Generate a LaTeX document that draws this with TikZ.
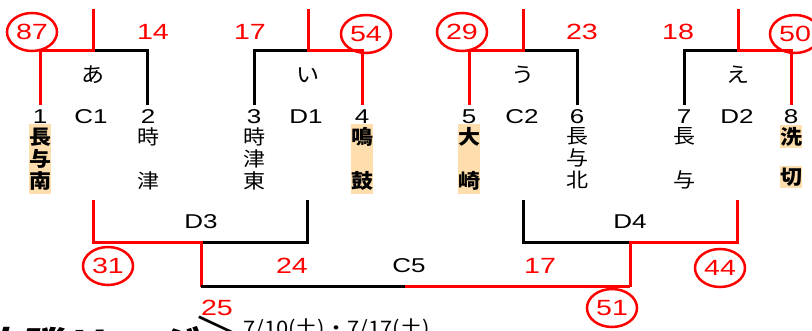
\documentclass[tikz,border=0pt]{standalone}
\usepackage{fontspec}
\setmainfont{Noto Sans CJK JP}[FakeStretch=1.1]
\newfontfamily\latinfont{Liberation Sans}[FakeStretch=1.3]
\usetikzlibrary{shapes,positioning}
\definecolor{peach}{RGB}{255,222,173}

\begin{document}
\begin{tikzpicture}[x=1pt, y=-1pt,
  win/.style={draw=red, line width=3pt},
  lose/.style={draw=black, line width=3pt},
  score/.style={text=red, font=\latinfont\fontsize{22}{22}\selectfont, inner sep=0pt},
  winner/.style={score, ellipse, draw=red, line width=2.5pt, minimum width=50pt, minimum height=38pt},
  label/.style={font=\latinfont\fontsize{20}{20}\selectfont, inner sep=0pt},
  kana/.style={font=\fontsize{21}{21}\selectfont, inner sep=0pt},
  team/.style={font=\fontsize{20}{22}\selectfont, align=center, inner xsep=0pt, inner ysep=3.5pt},
  seed/.style={team, fill=peach, font=\fontsize{20}{22}\selectfont\bfseries}]

\useasboundingbox (0,0) rectangle (812,331);

% FIRST ROUND

\coordinate (a-top) at (93,9);   \coordinate (a-mid) at (93,51);
\coordinate (a-l) at (40,51);    \coordinate (a-lb) at (40,105);
\coordinate (a-r) at (147,51);   \coordinate (a-rb) at (147,105);
\draw [lose] (a-mid) -- (a-r) -- (a-rb);
\draw [win] (a-top) -- (a-mid) -- (a-l) -- (a-lb);

\coordinate (i-top) at (308,9);  \coordinate (i-mid) at (308,51);
\coordinate (i-l) at (254,51);   \coordinate (i-lb) at (254,105);
\coordinate (i-r) at (362,51);   \coordinate (i-rb) at (362,105);
\draw [lose] (i-mid) -- (i-l) -- (i-lb);
\draw [win] (i-top) -- (i-mid) -- (i-r) -- (i-rb);

\coordinate (u-top) at (523,9);  \coordinate (u-mid) at (523,51);
\coordinate (u-l) at (469,51);   \coordinate (u-lb) at (469,105);
\coordinate (u-r) at (577,51);   \coordinate (u-rb) at (577,105);
\draw [lose] (u-mid) -- (u-r) -- (u-rb);
\draw [win] (u-top) -- (u-mid) -- (u-l) -- (u-lb);

\coordinate (e-top) at (738,9);  \coordinate (e-mid) at (738,51);
\coordinate (e-l) at (684,51);   \coordinate (e-lb) at (684,105);
\coordinate (e-r) at (791,51);   \coordinate (e-rb) at (791,105);
\draw [lose] (e-mid) -- (e-l) -- (e-lb);
\draw [win] (e-top) -- (e-mid) -- (e-r) -- (e-rb);

\node [kana] (kana-a) at (93,75) {あ};
\node [kana] (kana-i) at (308,75) {い};
\node [kana] (kana-u) at (523,75) {う};
\node [kana] (kana-e) at (738,75) {え};

\node [winner] (score-1) at (32,32) {87};
\node [score] (score-2) at (153,32) {14};
\node [score] (score-3) at (250,32) {17};
\node [winner] (score-4) at (366,34) {54};
\node [winner] (score-5) at (462,32) {29};
\node [score] (score-6) at (582,32) {23};
\node [score] (score-7) at (678,32) {18};
\node [winner] (score-8) at (795,34) {50};

% TEAMS

\node [label] (num1) at (40,117) {1};
\node [label] (court-c1) at (91,117) {C1};
\node [label] (num2) at (148,117) {2};
\node [label] (num3) at (254,117) {3};
\node [label] (court-d1) at (306,117) {D1};
\node [label] (num4) at (362,117) {4};
\node [label] (num5) at (469,117) {5};
\node [label] (court-c2) at (522,117) {C2};
\node [label] (num6) at (577,117) {6};
\node [label] (num7) at (684,117) {7};
\node [label] (court-d2) at (737,117) {D2};
\node [label] (num8) at (791,117) {8};

\node [seed, below=0pt of num1] (team1) {長\\与\\南};
\node [team, below=0pt of num2] (team2) {時\\[22pt]津};
\node [team, below=0pt of num3] (team3) {時\\津\\東};
\node [seed, below=0pt of num4] (team4) {鳴\\[22pt]鼓};
\node [seed, below=0pt of num5] (team5) {大\\[22pt]崎};
\node [team, below=0pt of num6] (team6) {長\\与\\北};
\node [team, below=0pt of num7] (team7) {長\\[22pt]与};
\node [seed, below=1pt of num8, inner ysep=2pt] (team8a) {洗};
\node [seed, below=17pt of team8a, inner ysep=2pt] (team8b) {切};

% SECOND ROUND

\coordinate (d3-lt) at (93,200);  \coordinate (d3-l) at (93,243);
\coordinate (d3-mid) at (201,243); \coordinate (d3-out) at (201,287);
\coordinate (d3-r) at (307,243);  \coordinate (d3-rt) at (307,200);
\draw [lose] (d3-mid) -- (d3-r) -- (d3-rt);
\draw [win] (d3-lt) -- (d3-l) -- (d3-mid) -- (d3-out);

\coordinate (d4-lt) at (523,200); \coordinate (d4-l) at (523,243);
\coordinate (d4-mid) at (630,243); \coordinate (d4-out) at (630,287);
\coordinate (d4-r) at (737,243);  \coordinate (d4-rt) at (737,200);
\draw [lose] (d4-mid) -- (d4-l) -- (d4-lt);
\draw [win] (d4-rt) -- (d4-r) -- (d4-mid) -- (d4-out);

\coordinate (c5-mid) at (405,287);
\draw [lose] (d3-out) -- (c5-mid);
\draw [win] (c5-mid) -- (d4-out);

\node [label] (court-d3) at (201,222) {D3};
\node [label] (court-d4) at (630,222) {D4};
\node [label] (court-c5) at (409,266) {C5};

\node [winner] (score-d3l) at (108,266) {31};
\node [score] (score-d3r) at (292,266) {24};
\node [score] (score-d4l) at (540,266) {17};
\node [winner] (score-d4r) at (720,268) {44};
\node [score] (score-f1) at (217,308) {25};
\node [winner] (score-f2) at (612,308) {51};

% LEAGUE

\node [anchor=base west, inner sep=0pt, xslant=0.25, font=\fontsize{40}{40}\selectfont\bfseries] (league) at (-28,362) {決勝リーグ};
\node [anchor=base, inner sep=0pt, font=\fontsize{40}{40}\selectfont] (league-close) at (215,347) {＞};
\node [anchor=base west, inner sep=0pt, font=\fontsize{20}{20}\selectfont] (dates) at (243,336) {7/10(土)・7/17(土)};

\end{tikzpicture}
\end{document}
